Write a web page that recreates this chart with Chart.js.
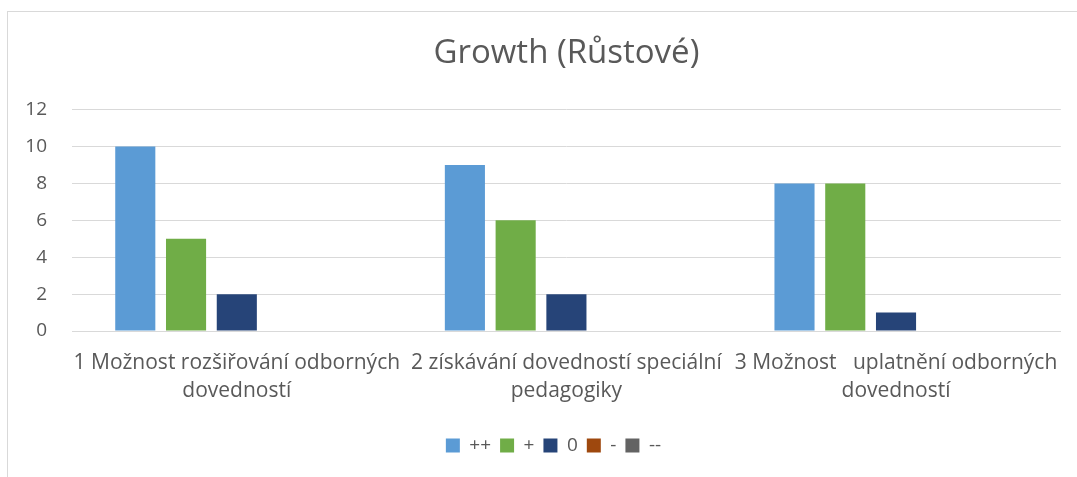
<!DOCTYPE html>
<html>
<head>
<meta charset="utf-8">
<script src="https://cdn.jsdelivr.net/npm/chart.js@4.4.1/dist/chart.umd.min.js"></script>
<style>
  html, body { margin: 0; padding: 0; background: #ffffff; overflow: hidden; }
  #wrap { position: relative; width: 1077px; height: 477px; }
  #frame { position: absolute; left: 7px; top: 11px; width: 1090px; height: 490px; border: 1px solid #d9d9d9; box-sizing: border-box; }
  canvas { position: absolute; left: 0; top: 0; }
</style>
</head>
<body>
<div id="wrap">
  <div id="frame"></div>
  <canvas id="c" width="1077" height="477"></canvas>
</div>
<script>
const chartTitle = "Growth (Růstové)";
const categories = [
  ["1 Možnost rozšiřování odborných", "dovedností"],
  ["2 získávání dovedností speciální", "pedagogiky"],
  ["3 Možnost   uplatnění odborných", "dovedností"]
];
const seriesNames = ["++", "+", "0", "-", "--"];
const seriesColors = ["#5B9BD5", "#70AD47", "#264478", "#9E480E", "#636363"];
const valuesPlusPlus = [10, 9, 8];
const valuesPlus = [5, 6, 8];
const valuesZero = [2, 2, 1];
const valuesMinus = [0, 0, 0];
const valuesMinusMinus = [0, 0, 0];
const yTicks = [0, 2, 4, 6, 8, 10, 12];

const seriesValues = [valuesPlusPlus, valuesPlus, valuesZero, valuesMinus, valuesMinusMinus];
const FONT = "'Open Sans', Lato, sans-serif";
const TXT = "#595959";

// let the y tick labels use the space left of the layout padding
const widenYLabelArea = {
  id: "widenYLabelArea",
  afterLayout(chart) {
    const s = chart.scales.y;
    s.left = 0;
    s.width = s.right;
  }
};

new Chart(document.getElementById("c"), {
  type: "bar",
  data: {
    labels: categories,
    datasets: seriesNames.map((n, i) => ({
      label: n,
      data: seriesValues[i],
      backgroundColor: seriesColors[i],
      borderWidth: 0,
      categoryPercentage: 0.77,
      barPercentage: 0.79
    }))
  },
  plugins: [widenYLabelArea],
  options: {
    responsive: false,
    animation: false,
    devicePixelRatio: 1,
    layout: { padding: { left: 46, right: 16, top: 0, bottom: 12 } },
    plugins: {
      tooltip: { enabled: false },
      title: {
        display: true,
        fullSize: false,
        text: chartTitle,
        color: TXT,
        font: { family: FONT, size: 33, weight: "normal" },
        padding: { top: 34, bottom: 36 }
      },
      legend: {
        position: "bottom",
        labels: {
          color: TXT,
          font: { family: FONT, size: 19 },
          boxWidth: 14,
          boxHeight: 14,
          padding: 9
        }
      }
    },
    scales: {
      x: {
        afterFit: (s) => { s.height += 4; },
        grid: { display: false, drawTicks: false },
        border: { display: true, color: "#d9d9d9", width: 1 },
        ticks: {
          color: TXT,
          font: { family: FONT, size: 21, lineHeight: 1.38 },
          maxRotation: 0,
          minRotation: 0,
          autoSkip: false,
          padding: 17
        }
      },
      y: {
        min: 0,
        max: 12,
        afterFit: (s) => { s.width = 26; },
        afterBuildTicks: (s) => { s.ticks = yTicks.map(v => ({ value: v })); },
        grid: { color: "#d9d9d9", lineWidth: 1, drawTicks: false },
        border: { display: false },
        ticks: {
          color: TXT,
          font: { family: FONT, size: 19 },
          padding: 25,
          stepSize: 2
        }
      }
    }
  }
});
</script>
</body>
</html>
